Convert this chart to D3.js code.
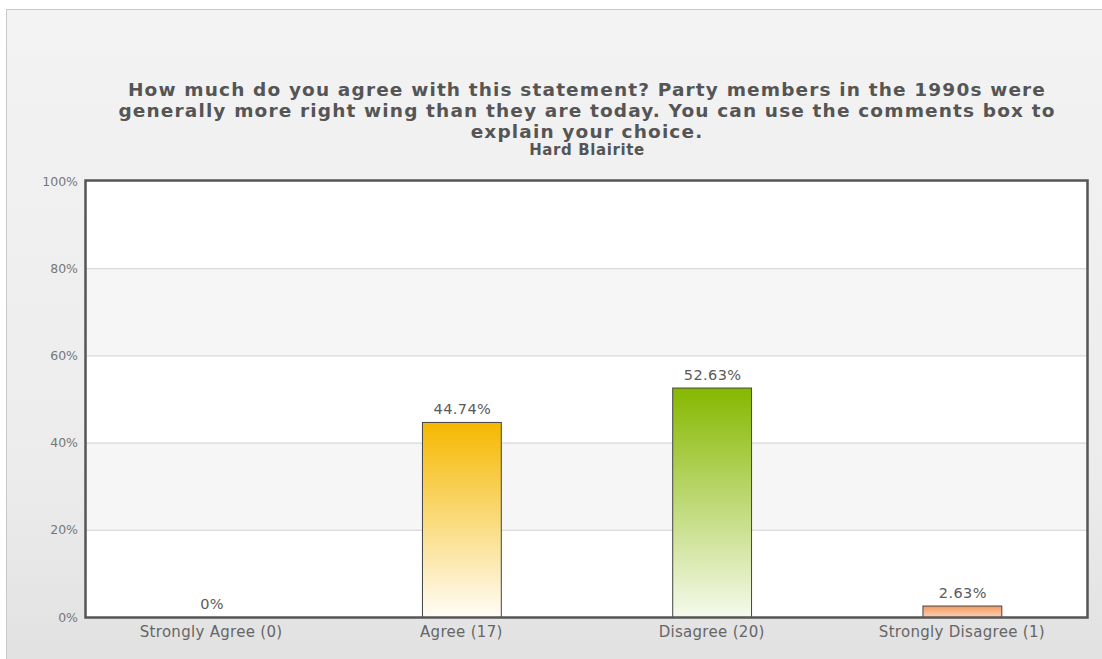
<!DOCTYPE html>
<html><head><meta charset="utf-8">
<script src="https://cdn.jsdelivr.net/npm/d3@7"></script>
<style>body{margin:0;background:#fff;}svg{display:block;}</style>
</head><body>
<script>
const categories = ["Strongly Agree (0)", "Agree (17)", "Disagree (20)", "Strongly Disagree (1)"];
const values = [0, 44.74, 52.63, 2.63];
const valueLabels = ["0%", "44.74%", "52.63%", "2.63%"];
const yTicks = [0, 20, 40, 60, 80, 100];
const titleLines = ["How much do you agree with this statement? Party members in the 1990s were",
  "generally more right wing than they are today. You can use the comments box to",
  "explain your choice."];
const subtitle = "Hard Blairite";
const barColors = [["#f5b800","#fffdf7"],["#f5b800","#fffdf7"],["#86b800","#f6faec"],["#f39a62","#fcd2b4"]];

const W = 1102, H = 659;
const FONT = "Verdana, DejaVu Sans, sans-serif";
const svg = d3.select("body").append("svg").attr("width", W).attr("height", H);
const defs = svg.append("defs");
const bg = defs.append("linearGradient").attr("id","bg").attr("x1",0).attr("y1",0).attr("x2",0).attr("y2",1);
bg.append("stop").attr("offset","0%").attr("stop-color","#f3f3f3");
bg.append("stop").attr("offset","70%").attr("stop-color","#ececec");
bg.append("stop").attr("offset","100%").attr("stop-color","#e1e1e1");
svg.append("rect").attr("x",6.5).attr("y",9.5).attr("width",W).attr("height",H).attr("fill","url(#bg)").attr("stroke","#c8c8c8");

const m = {left:86, right:1087, top:181, bottom:617};
const x = d3.scaleBand().domain(categories).range([m.left, m.right]);
const y = d3.scaleLinear().domain([0,100]).range([m.bottom, m.top]);

// bands
const g = svg.append("g");
for (let i = 0; i < yTicks.length-1; i++) {
  g.append("rect").attr("x", m.left).attr("width", m.right-m.left)
   .attr("y", y(yTicks[i+1])).attr("height", y(yTicks[i])-y(yTicks[i+1]))
   .attr("fill", i % 2 === 0 ? "#ffffff" : "#f6f6f6");
}
g.selectAll("line.grid").data(yTicks.slice(1,-1)).join("line").attr("class","grid")
 .attr("x1", m.left).attr("x2", m.right).attr("y1", d=>y(d)+0.5).attr("y2", d=>y(d)+0.5)
 .attr("stroke","#d2d2d2");

// bars
categories.forEach((c,i)=>{
  const gr = defs.append("linearGradient").attr("id","g"+i).attr("x1",0).attr("y1",0).attr("x2",0).attr("y2",1);
  gr.append("stop").attr("offset","0%").attr("stop-color",barColors[i][0]);
  gr.append("stop").attr("offset","100%").attr("stop-color",barColors[i][1]);
});
const bw = x.bandwidth()*0.315;
const barData = values.map((v,i)=>({v, i, c: categories[i]})).filter(d=>d.v>0);
svg.selectAll("rect.bar").data(barData).join("rect").attr("class","bar")
 .attr("x",d=>x(d.c) + x.bandwidth()/2 - bw/2 + 0.5)
 .attr("y",d=>y(d.v)+0.5).attr("width",bw).attr("height",d=>y(0)-y(d.v))
 .attr("fill",d=>"url(#g"+d.i+")").attr("stroke","#444").attr("stroke-width",1);

svg.selectAll("text.val").data(values).join("text").attr("class","val")
 .attr("x",(d,i)=>x(categories[i])+x.bandwidth()/2+1)
 .attr("y",d=>y(d)-8)
 .attr("text-anchor","middle").attr("font-family",FONT)
 .attr("font-size",14.5).attr("letter-spacing",0.4).attr("fill","#5a5a5a").text((d,i)=>valueLabels[i]);

// frame
svg.append("rect").attr("x",m.left-0.5).attr("y",m.top-0.5).attr("width",m.right-m.left+1).attr("height",m.bottom-m.top+1)
 .attr("fill","none").attr("stroke","#555").attr("stroke-width",2.5);

// axes
const ya = svg.append("g").attr("transform",`translate(${m.left-2},0)`)
 .call(d3.axisLeft(y).tickValues(yTicks).tickFormat(d=>d+"%").tickSize(0).tickPadding(6));
ya.select(".domain").remove();
ya.selectAll("text").attr("font-family",FONT).attr("font-size",12.5).attr("fill","#777");

const xa = svg.append("g").attr("transform",`translate(0,${m.bottom+1})`)
 .call(d3.axisBottom(x).tickSize(0).tickPadding(8));
xa.select(".domain").remove();
xa.selectAll("text").attr("font-family",FONT).attr("font-size",15).attr("letter-spacing",0.3).attr("fill","#666");

// title
const cx = 587;
svg.selectAll("text.title").data(titleLines).join("text").attr("class","title")
 .attr("x",cx).attr("y",(d,i)=>96+i*21).attr("text-anchor","middle")
 .attr("font-family",FONT).attr("font-weight","bold")
 .attr("font-size",18.5).attr("letter-spacing",1.15).attr("fill","#555").text(d=>d);
svg.append("text").attr("x",cx).attr("y",155).attr("text-anchor","middle")
 .attr("font-family",FONT).attr("font-weight","bold")
 .attr("font-size",15).attr("letter-spacing",0.6).attr("fill","#555").text(subtitle);
</script>
</body></html>
